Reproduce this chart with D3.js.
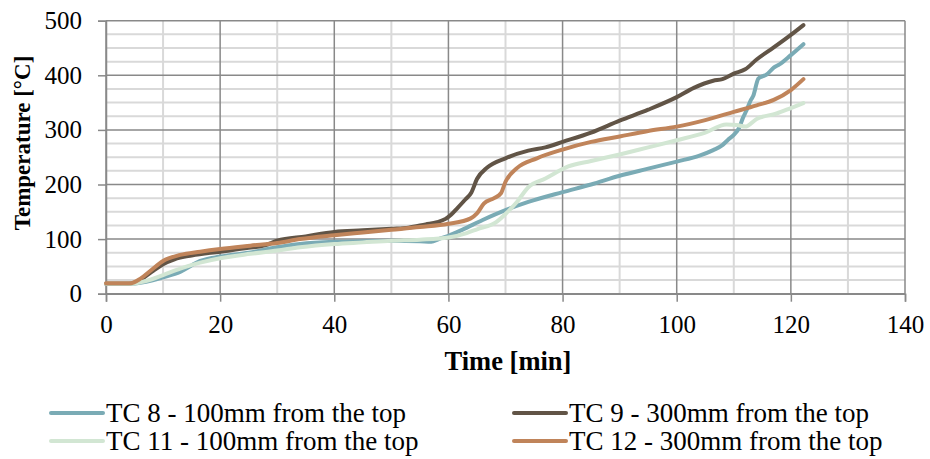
<!DOCTYPE html>
<html>
<head>
<meta charset="utf-8">
<script src="https://cdn.jsdelivr.net/npm/d3@7"></script>
</head>
<body style="margin:0; background:#fff">
<div class="chart"></div>
<script>
// series names and colours
const seriesNames = [
  "TC 8 - 100mm from the top",
  "TC 9 - 300mm from the top",
  "TC 11 - 100mm from the top",
  "TC 12 - 300mm from the top"
];
const seriesColors = ["#7aabb5", "#615446", "#d2e6d3", "#c0845a"];

// time [min] and temperature [°C]
const tc8Time = [0, 3, 4.3, 6, 8, 10, 13, 16.5, 20, 25, 30, 34, 40, 45, 50, 55, 57, 58.3, 60, 62.4, 66, 70, 74, 80, 85, 90, 95, 100, 104, 106.4, 108, 109, 110, 111, 111.6, 112.2, 113, 113.4, 114.3, 115, 115.7, 117, 118, 120, 122.2];
const tc8Temp = [18, 18, 18, 20, 24, 30, 40, 60, 68, 75, 85, 91, 95, 96, 97, 96, 95, 100, 106, 117, 135, 153, 168, 186, 200, 216, 229, 242, 253, 263, 272, 282, 291, 305, 322, 335, 355, 362, 394, 398, 401, 414, 420, 437, 457];

const tc9Time = [0, 4, 6, 8, 10, 12, 15, 20, 25, 28, 30, 35, 40, 45, 50, 53, 56, 58, 59.5, 60.5, 61.5, 63, 64, 65, 66.8, 70, 74, 77, 80, 85, 90, 95, 100, 103, 106.4, 108, 110, 112, 114, 117, 120, 122.2];
const tc9Temp = [18, 18, 25, 40, 54, 63, 70, 77, 84, 89, 97, 105, 113, 116, 119, 121, 127, 131, 137, 145, 156, 173, 185, 210, 231, 248, 262, 268, 278, 295, 317, 337, 360, 377, 390, 393, 403, 411, 429, 451, 474, 492];

const tc11Time = [0, 4.3, 6, 7.9, 10, 13, 16.5, 20, 25.3, 30, 34, 40, 45, 50, 55, 60, 63.2, 65, 68.5, 70, 72, 74, 77, 81, 85, 90, 95, 100, 105, 108.7, 110.5, 112, 114, 117.5, 120, 122.2];
const tc11Temp = [18, 18, 21, 26, 34, 46, 57, 65, 73, 79, 85, 91, 94, 97, 99, 103, 111, 118, 132, 146, 168, 195, 211, 233, 243, 255, 268, 281, 295, 310, 309, 306, 320, 330, 340, 349];

const tc12Time = [0, 4.3, 6.1, 7.9, 10, 13, 16.5, 20, 25.3, 30, 34, 40, 45, 50, 55, 60, 63.9, 65, 66.2, 68, 69.2, 70, 72, 75.5, 80, 85, 90, 95, 100, 105, 110, 114, 117, 120, 122.2];
const tc12Temp = [19, 19, 28, 43, 60, 71, 77, 82, 88, 93, 100, 107, 112, 117, 122, 128, 138, 147, 165, 175, 184, 205, 230, 248, 264, 278, 288, 298, 306, 318, 333, 345, 355, 373, 393];

const seriesTimes = [tc8Time, tc9Time, tc11Time, tc12Time];
const seriesTemps = [tc8Temp, tc9Temp, tc11Temp, tc12Temp];

// axis ticks
const xTicks = [0, 20, 40, 60, 80, 100, 120, 140];
const yTicks = [0, 100, 200, 300, 400, 500];

const serif = '"Liberation Serif"';
const width = 930;
const height = 459;

const svg = d3.select(".chart")
  .append("svg")
  .attr("width", width)
  .attr("height", height)
  .style("display", "block");

const x = d3.scaleLinear().domain([0, 140]).range([106, 905]);
const y = d3.scaleLinear().domain([0, 500]).range([293.7, 20.7]);

// minor gridlines (light)
const grid = svg.append("g");
grid.selectAll(".vminor")
  .data(d3.range(10, 140, 20))
  .enter()
  .append("line")
  .attr("x1", d => x(d)).attr("x2", d => x(d))
  .attr("y1", y(0)).attr("y2", y(500))
  .attr("stroke", "#d9d9d9")
  .attr("stroke-width", 2);

grid.selectAll(".hminor")
  .data(d3.range(25, 500, 25).filter(d => d % 100 !== 0))
  .enter()
  .append("line")
  .attr("x1", x(0)).attr("x2", x(140))
  .attr("y1", d => y(d)).attr("y2", d => y(d))
  .attr("stroke", "#d9d9d9")
  .attr("stroke-width", 2);

// major gridlines (dark)
grid.selectAll(".vmajor")
  .data(xTicks)
  .enter()
  .append("line")
  .attr("x1", d => x(d)).attr("x2", d => x(d))
  .attr("y1", y(0)).attr("y2", y(500))
  .attr("stroke", "#898989")
  .attr("stroke-width", 1.5);

grid.selectAll(".hmajor")
  .data(yTicks)
  .enter()
  .append("line")
  .attr("x1", x(0)).attr("x2", x(140))
  .attr("y1", d => y(d)).attr("y2", d => y(d))
  .attr("stroke", "#898989")
  .attr("stroke-width", 1.5);

// axes
const yAxis = d3.axisLeft(y)
  .tickValues(yTicks)
  .tickSize(8)
  .tickPadding(16);

const xAxis = d3.axisBottom(x)
  .tickValues(xTicks)
  .tickSize(8)
  .tickPadding(13.5);

const gy = svg.append("g")
  .attr("transform", `translate(${x(0)},0)`)
  .call(yAxis);

const gx = svg.append("g")
  .attr("transform", `translate(0,${y(0)})`)
  .call(xAxis);

[gx, gy].forEach(g => {
  g.select(".domain").attr("stroke", "#898989").attr("stroke-width", 1.5);
  g.selectAll(".tick line").attr("stroke", "#898989").attr("stroke-width", 1.5);
  g.selectAll(".tick text")
    .attr("fill", "#000")
    .style("font-family", serif)
    .style("font-size", "25px");
});

// axis titles
svg.append("text")
  .attr("x", 508)
  .attr("y", 370)
  .attr("text-anchor", "middle")
  .style("font-family", serif)
  .style("font-size", "26.5px")
  .style("font-weight", "bold")
  .text("Time [min]");

svg.append("text")
  .attr("transform", "translate(30,143) rotate(-90)")
  .attr("text-anchor", "middle")
  .style("font-family", serif)
  .style("font-size", "23px")
  .style("font-weight", "bold")
  .text("Temperature [°C]");

// series lines
const line = d3.line()
  .x(d => x(d[0]))
  .y(d => y(d[1]))
  .curve(d3.curveMonotoneX);

svg.append("g")
  .selectAll("path")
  .data(seriesNames.map((name, i) => seriesTimes[i].map((t, j) => [t, seriesTemps[i][j]])))
  .enter()
  .append("path")
  .attr("d", line)
  .attr("fill", "none")
  .attr("stroke", (d, i) => seriesColors[i])
  .attr("stroke-width", 4)
  .attr("stroke-linecap", "round")
  .attr("stroke-linejoin", "round");

// legend: two columns, two rows
const legendCols = [51, 514];
const legendRows = [413, 441];

const legend = svg.append("g");
const items = legend.selectAll("g")
  .data(seriesNames)
  .enter()
  .append("g")
  .attr("transform", (d, i) => `translate(${legendCols[i % 2]},${legendRows[Math.floor(i / 2)]})`);

items.append("line")
  .attr("x1", 0).attr("x2", 52)
  .attr("y1", 0).attr("y2", 0)
  .attr("stroke", (d, i) => seriesColors[i])
  .attr("stroke-width", 4)
  .attr("stroke-linecap", "round");

items.append("text")
  .attr("x", 55)
  .attr("y", 8.5)
  .style("font-family", serif)
  .style("font-size", "27px")
  .text(d => d);
</script>
</body>
</html>
